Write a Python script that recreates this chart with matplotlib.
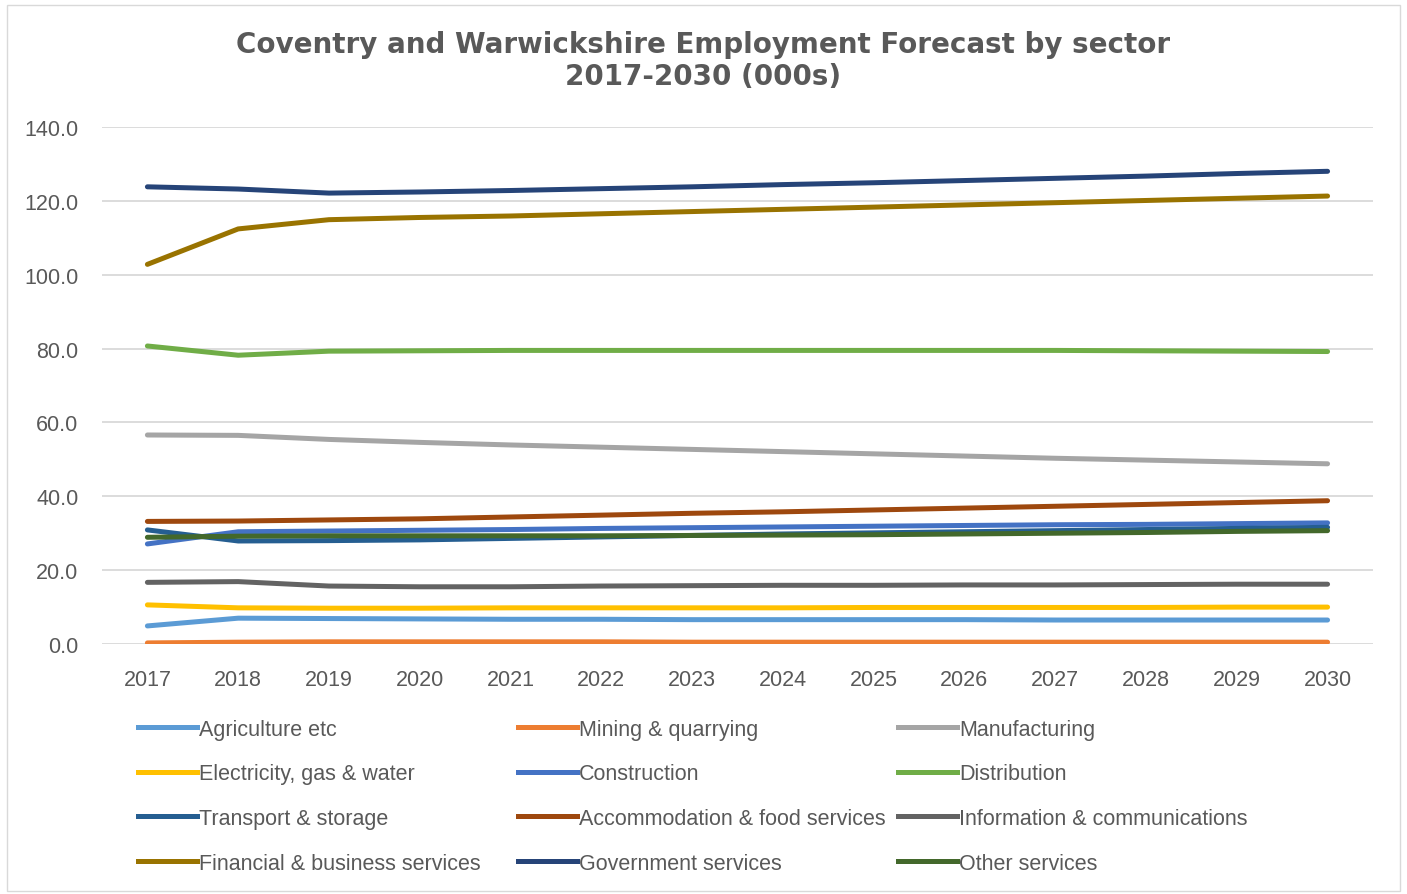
"""
Coventry and Warwickshire employment forecast by sector, 2017-2030 (000s)
"""

import matplotlib
matplotlib.use('Agg')
import matplotlib.pyplot as plt
from matplotlib.lines import Line2D
from matplotlib.patches import Rectangle
import numpy as np

plt.rcParams['font.family'] = ['Liberation Sans', 'DejaVu Sans']

years = list(range(2017, 2031))

sectors = [
    'Agriculture etc', 'Mining & quarrying', 'Manufacturing',
    'Electricity, gas & water', 'Construction', 'Distribution',
    'Transport & storage', 'Accommodation & food services', 'Information & communications',
    'Financial & business services', 'Government services', 'Other services',
]

colors = [
    '#5B9BD5', '#ED7D31', '#A5A5A5',
    '#FFC000', '#4472C4', '#70AD47',
    '#255E91', '#9E480E', '#636363',
    '#997300', '#264478', '#43682B',
]

agriculture = [4.9, 7.0, 6.9, 6.8, 6.7, 6.7, 6.6, 6.6, 6.6, 6.6, 6.5, 6.5, 6.5, 6.5]
mining = [0.3, 0.5, 0.6, 0.6, 0.6, 0.6, 0.5, 0.5, 0.5, 0.5, 0.5, 0.5, 0.5, 0.5]
manufacturing = [56.6, 56.5, 55.4, 54.6, 53.9, 53.3, 52.7, 52.1, 51.5, 50.9, 50.3, 49.8, 49.3, 48.8]
electricity = [10.6, 9.8, 9.7, 9.7, 9.8, 9.8, 9.8, 9.8, 9.9, 9.9, 9.9, 9.9, 10.0, 10.0]
construction = [27.1, 30.4, 30.6, 30.8, 31.0, 31.3, 31.5, 31.7, 31.9, 32.1, 32.3, 32.4, 32.6, 32.8]
distribution = [80.7, 78.2, 79.3, 79.4, 79.5, 79.5, 79.5, 79.5, 79.5, 79.5, 79.5, 79.4, 79.3, 79.2]
transport = [30.9, 27.9, 28.0, 28.2, 28.6, 29.0, 29.4, 29.8, 30.1, 30.4, 30.7, 31.0, 31.3, 31.6]
accommodation = [33.2, 33.3, 33.6, 33.9, 34.4, 34.9, 35.4, 35.8, 36.3, 36.8, 37.3, 37.8, 38.3, 38.8]
information = [16.7, 16.9, 15.7, 15.5, 15.5, 15.7, 15.8, 15.9, 15.9, 16.0, 16.0, 16.1, 16.2, 16.2]
financial = [102.8, 112.4, 114.9, 115.5, 115.9, 116.5, 117.1, 117.7, 118.3, 118.9, 119.5, 120.1, 120.7, 121.3]
government = [123.8, 123.2, 122.1, 122.4, 122.8, 123.3, 123.8, 124.4, 124.9, 125.5, 126.1, 126.7, 127.4, 128.0]
other = [28.9, 29.2, 29.3, 29.3, 29.3, 29.3, 29.4, 29.5, 29.6, 29.8, 30.0, 30.2, 30.5, 30.7]

series = [
    agriculture, mining, manufacturing,
    electricity, construction, distribution,
    transport, accommodation, information,
    financial, government, other,
]

TEXT = '#595959'
GRID = '#D9D9D9'

fig = plt.figure(figsize=(14.07, 8.95), dpi=100)
fig.patch.set_facecolor('white')
fig.patches.append(Rectangle((0.005, 0.003), 0.99, 0.99, transform=fig.transFigure,
                             fill=False, edgecolor=GRID, linewidth=1.0))

ax = fig.add_axes([0.0725, 0.2793, 0.9033, 0.5777])

for vals, col in zip(series, colors):
    ax.plot(years, vals, color=col, linewidth=3.6, solid_capstyle='round', zorder=3)

ax.set_xlim(2016.5, 2030.5)
ax.set_ylim(0, 140)
ax.set_yticks(np.arange(0, 141, 20))
ax.set_yticklabels([f'{v:.1f}' for v in np.arange(0, 141, 20)])
ax.set_xticks(years)
ax.set_xticklabels([str(y) for y in years])
ax.tick_params(axis='both', length=0, labelsize=15.5, labelcolor=TEXT)
ax.tick_params(axis='y', pad=17)
ax.tick_params(axis='x', pad=18)
ax.grid(axis='y', color=GRID, linewidth=1.3, zorder=0)
for s in ax.spines.values():
    s.set_visible(False)

fig.text(0.5, 0.965, 'Coventry and Warwickshire Employment Forecast by sector\n2017-2030 (000s)',
         ha='center', va='top', fontsize=20, fontweight='bold', color=TEXT,
         family='DejaVu Sans', linespacing=1.15)

# legend laid out as three columns, filled row by row
col_x = [0.098, 0.368, 0.638]
for c in range(3):
    handles = [Line2D([], [], color=colors[r * 3 + c], linewidth=3.6) for r in range(4)]
    labels = [sectors[r * 3 + c] for r in range(4)]
    leg = fig.legend(handles, labels, loc='upper left', bbox_to_anchor=(col_x[c], 0.196),
                     frameon=False, fontsize=15.5, handlelength=2.75, handletextpad=0.1,
                     labelspacing=1.1, borderaxespad=0, borderpad=0)
    for t in leg.get_texts():
        t.set_color(TEXT)

fig.savefig('out.png', dpi=100, facecolor='white')
